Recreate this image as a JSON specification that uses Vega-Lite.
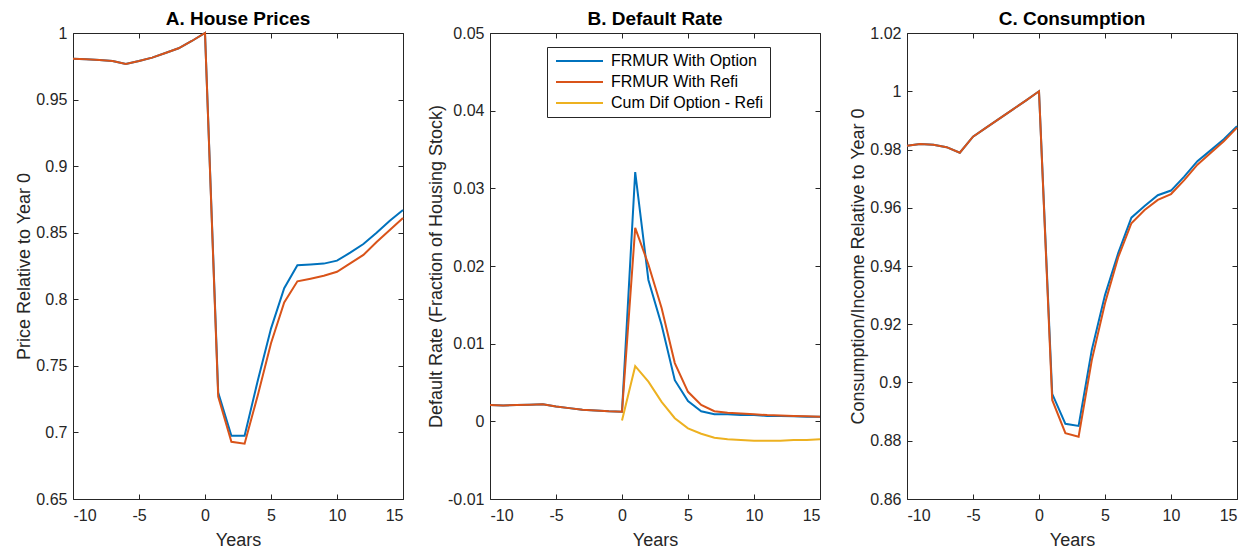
{
  "$schema": "https://vega.github.io/schema/vega-lite/v6.json",
  "background": "white",
  "padding": {"left": 15, "top": 9, "right": 5, "bottom": 0},
  "bounds": "flush",
  "spacing": 87,
  "resolve": {"scale": {"color": "independent"}, "legend": {"color": "independent"}},
  "config": {
    "font": "Liberation Sans",
    "view": {"stroke": "#262626", "strokeWidth": 1},
    "axis": {"grid": false, "domain": false, "tickColor": "#262626", "tickSize": -5, "labelColor": "#262626", "labelFontSize": 16, "titleFontSize": 18, "titleFontWeight": "normal", "titleColor": "#262626"},
    "axisX": {"labelPadding": 13, "titlePadding": 8},
    "axisY": {"labelPadding": 11, "titlePadding": 2},
    "title": {"fontSize": 19, "fontWeight": "bold", "color": "#000000", "offset": -4},
    "legend": {"labelFontSize": 16, "labelColor": "#000000", "strokeColor": "#262626", "fillColor": "white", "padding": 6}
  },
  "datasets": {
    "house": [
      {"series": "FRMUR With Option", "year": -10, "value": 0.9806},
      {"series": "FRMUR With Option", "year": -9, "value": 0.9803},
      {"series": "FRMUR With Option", "year": -8, "value": 0.9798},
      {"series": "FRMUR With Option", "year": -7, "value": 0.979},
      {"series": "FRMUR With Option", "year": -6, "value": 0.9768},
      {"series": "FRMUR With Option", "year": -5, "value": 0.979},
      {"series": "FRMUR With Option", "year": -4, "value": 0.9815},
      {"series": "FRMUR With Option", "year": -3, "value": 0.985},
      {"series": "FRMUR With Option", "year": -2, "value": 0.9885},
      {"series": "FRMUR With Option", "year": -1, "value": 0.994},
      {"series": "FRMUR With Option", "year": 0, "value": 1.0},
      {"series": "FRMUR With Option", "year": 1, "value": 0.73},
      {"series": "FRMUR With Option", "year": 2, "value": 0.6975},
      {"series": "FRMUR With Option", "year": 3, "value": 0.6975},
      {"series": "FRMUR With Option", "year": 4, "value": 0.739},
      {"series": "FRMUR With Option", "year": 5, "value": 0.778},
      {"series": "FRMUR With Option", "year": 6, "value": 0.8083},
      {"series": "FRMUR With Option", "year": 7, "value": 0.8255},
      {"series": "FRMUR With Option", "year": 8, "value": 0.8262},
      {"series": "FRMUR With Option", "year": 9, "value": 0.8268},
      {"series": "FRMUR With Option", "year": 10, "value": 0.829},
      {"series": "FRMUR With Option", "year": 11, "value": 0.835},
      {"series": "FRMUR With Option", "year": 12, "value": 0.8415},
      {"series": "FRMUR With Option", "year": 13, "value": 0.85},
      {"series": "FRMUR With Option", "year": 14, "value": 0.859},
      {"series": "FRMUR With Option", "year": 15, "value": 0.867},
      {"series": "FRMUR With Refi", "year": -10, "value": 0.9806},
      {"series": "FRMUR With Refi", "year": -9, "value": 0.9803},
      {"series": "FRMUR With Refi", "year": -8, "value": 0.9798},
      {"series": "FRMUR With Refi", "year": -7, "value": 0.979},
      {"series": "FRMUR With Refi", "year": -6, "value": 0.9768},
      {"series": "FRMUR With Refi", "year": -5, "value": 0.979},
      {"series": "FRMUR With Refi", "year": -4, "value": 0.9815},
      {"series": "FRMUR With Refi", "year": -3, "value": 0.985},
      {"series": "FRMUR With Refi", "year": -2, "value": 0.9885},
      {"series": "FRMUR With Refi", "year": -1, "value": 0.994},
      {"series": "FRMUR With Refi", "year": 0, "value": 1.0},
      {"series": "FRMUR With Refi", "year": 1, "value": 0.727},
      {"series": "FRMUR With Refi", "year": 2, "value": 0.693},
      {"series": "FRMUR With Refi", "year": 3, "value": 0.6915},
      {"series": "FRMUR With Refi", "year": 4, "value": 0.728},
      {"series": "FRMUR With Refi", "year": 5, "value": 0.767},
      {"series": "FRMUR With Refi", "year": 6, "value": 0.7977},
      {"series": "FRMUR With Refi", "year": 7, "value": 0.8135},
      {"series": "FRMUR With Refi", "year": 8, "value": 0.8155},
      {"series": "FRMUR With Refi", "year": 9, "value": 0.8177},
      {"series": "FRMUR With Refi", "year": 10, "value": 0.8207},
      {"series": "FRMUR With Refi", "year": 11, "value": 0.827},
      {"series": "FRMUR With Refi", "year": 12, "value": 0.8333},
      {"series": "FRMUR With Refi", "year": 13, "value": 0.843},
      {"series": "FRMUR With Refi", "year": 14, "value": 0.852},
      {"series": "FRMUR With Refi", "year": 15, "value": 0.861}
    ],
    "default": [
      {"series": "FRMUR With Option", "year": -10, "value": 0.0021},
      {"series": "FRMUR With Option", "year": -9, "value": 0.00205},
      {"series": "FRMUR With Option", "year": -8, "value": 0.0021},
      {"series": "FRMUR With Option", "year": -7, "value": 0.00215},
      {"series": "FRMUR With Option", "year": -6, "value": 0.0022},
      {"series": "FRMUR With Option", "year": -5, "value": 0.0019},
      {"series": "FRMUR With Option", "year": -4, "value": 0.0017},
      {"series": "FRMUR With Option", "year": -3, "value": 0.0015},
      {"series": "FRMUR With Option", "year": -2, "value": 0.0014},
      {"series": "FRMUR With Option", "year": -1, "value": 0.0013},
      {"series": "FRMUR With Option", "year": 0, "value": 0.00125},
      {"series": "FRMUR With Option", "year": 1, "value": 0.0321},
      {"series": "FRMUR With Option", "year": 2, "value": 0.0182},
      {"series": "FRMUR With Option", "year": 3, "value": 0.0124},
      {"series": "FRMUR With Option", "year": 4, "value": 0.0053},
      {"series": "FRMUR With Option", "year": 5, "value": 0.0026},
      {"series": "FRMUR With Option", "year": 6, "value": 0.0013},
      {"series": "FRMUR With Option", "year": 7, "value": 0.0009},
      {"series": "FRMUR With Option", "year": 8, "value": 0.0009},
      {"series": "FRMUR With Option", "year": 9, "value": 0.0008},
      {"series": "FRMUR With Option", "year": 10, "value": 0.0008},
      {"series": "FRMUR With Option", "year": 11, "value": 0.0007},
      {"series": "FRMUR With Option", "year": 12, "value": 0.0007},
      {"series": "FRMUR With Option", "year": 13, "value": 0.00065},
      {"series": "FRMUR With Option", "year": 14, "value": 0.0006},
      {"series": "FRMUR With Option", "year": 15, "value": 0.0006},
      {"series": "FRMUR With Refi", "year": -10, "value": 0.0021},
      {"series": "FRMUR With Refi", "year": -9, "value": 0.00205},
      {"series": "FRMUR With Refi", "year": -8, "value": 0.0021},
      {"series": "FRMUR With Refi", "year": -7, "value": 0.00215},
      {"series": "FRMUR With Refi", "year": -6, "value": 0.0022},
      {"series": "FRMUR With Refi", "year": -5, "value": 0.0019},
      {"series": "FRMUR With Refi", "year": -4, "value": 0.0017},
      {"series": "FRMUR With Refi", "year": -3, "value": 0.0015},
      {"series": "FRMUR With Refi", "year": -2, "value": 0.0014},
      {"series": "FRMUR With Refi", "year": -1, "value": 0.0013},
      {"series": "FRMUR With Refi", "year": 0, "value": 0.00125},
      {"series": "FRMUR With Refi", "year": 1, "value": 0.0249},
      {"series": "FRMUR With Refi", "year": 2, "value": 0.0202},
      {"series": "FRMUR With Refi", "year": 3, "value": 0.0146},
      {"series": "FRMUR With Refi", "year": 4, "value": 0.0075},
      {"series": "FRMUR With Refi", "year": 5, "value": 0.0038},
      {"series": "FRMUR With Refi", "year": 6, "value": 0.0021},
      {"series": "FRMUR With Refi", "year": 7, "value": 0.0013},
      {"series": "FRMUR With Refi", "year": 8, "value": 0.0011},
      {"series": "FRMUR With Refi", "year": 9, "value": 0.001},
      {"series": "FRMUR With Refi", "year": 10, "value": 0.0009},
      {"series": "FRMUR With Refi", "year": 11, "value": 0.0008},
      {"series": "FRMUR With Refi", "year": 12, "value": 0.00075},
      {"series": "FRMUR With Refi", "year": 13, "value": 0.0007},
      {"series": "FRMUR With Refi", "year": 14, "value": 0.00065},
      {"series": "FRMUR With Refi", "year": 15, "value": 0.0006},
      {"series": "Cum Dif Option - Refi", "year": 0, "value": 0.0001},
      {"series": "Cum Dif Option - Refi", "year": 1, "value": 0.0071},
      {"series": "Cum Dif Option - Refi", "year": 2, "value": 0.0051},
      {"series": "Cum Dif Option - Refi", "year": 3, "value": 0.0025},
      {"series": "Cum Dif Option - Refi", "year": 4, "value": 0.0004},
      {"series": "Cum Dif Option - Refi", "year": 5, "value": -0.0009},
      {"series": "Cum Dif Option - Refi", "year": 6, "value": -0.0016},
      {"series": "Cum Dif Option - Refi", "year": 7, "value": -0.0021},
      {"series": "Cum Dif Option - Refi", "year": 8, "value": -0.0023},
      {"series": "Cum Dif Option - Refi", "year": 9, "value": -0.0024},
      {"series": "Cum Dif Option - Refi", "year": 10, "value": -0.0025},
      {"series": "Cum Dif Option - Refi", "year": 11, "value": -0.0025},
      {"series": "Cum Dif Option - Refi", "year": 12, "value": -0.0025},
      {"series": "Cum Dif Option - Refi", "year": 13, "value": -0.0024},
      {"series": "Cum Dif Option - Refi", "year": 14, "value": -0.0024},
      {"series": "Cum Dif Option - Refi", "year": 15, "value": -0.0023}
    ],
    "consumption": [
      {"series": "FRMUR With Option", "year": -10, "value": 0.9813},
      {"series": "FRMUR With Option", "year": -9, "value": 0.9819},
      {"series": "FRMUR With Option", "year": -8, "value": 0.9816},
      {"series": "FRMUR With Option", "year": -7, "value": 0.9808},
      {"series": "FRMUR With Option", "year": -6, "value": 0.9789},
      {"series": "FRMUR With Option", "year": -5, "value": 0.9844},
      {"series": "FRMUR With Option", "year": -4, "value": 0.9875},
      {"series": "FRMUR With Option", "year": -3, "value": 0.9906},
      {"series": "FRMUR With Option", "year": -2, "value": 0.9937},
      {"series": "FRMUR With Option", "year": -1, "value": 0.9968},
      {"series": "FRMUR With Option", "year": 0, "value": 1.0},
      {"series": "FRMUR With Option", "year": 1, "value": 0.8961},
      {"series": "FRMUR With Option", "year": 2, "value": 0.8858},
      {"series": "FRMUR With Option", "year": 3, "value": 0.8851},
      {"series": "FRMUR With Option", "year": 4, "value": 0.9112},
      {"series": "FRMUR With Option", "year": 5, "value": 0.93},
      {"series": "FRMUR With Option", "year": 6, "value": 0.9444},
      {"series": "FRMUR With Option", "year": 7, "value": 0.9566},
      {"series": "FRMUR With Option", "year": 8, "value": 0.9606},
      {"series": "FRMUR With Option", "year": 9, "value": 0.9643},
      {"series": "FRMUR With Option", "year": 10, "value": 0.9659},
      {"series": "FRMUR With Option", "year": 11, "value": 0.9707},
      {"series": "FRMUR With Option", "year": 12, "value": 0.976},
      {"series": "FRMUR With Option", "year": 13, "value": 0.9797},
      {"series": "FRMUR With Option", "year": 14, "value": 0.9835},
      {"series": "FRMUR With Option", "year": 15, "value": 0.988},
      {"series": "FRMUR With Refi", "year": -10, "value": 0.9813},
      {"series": "FRMUR With Refi", "year": -9, "value": 0.9819},
      {"series": "FRMUR With Refi", "year": -8, "value": 0.9816},
      {"series": "FRMUR With Refi", "year": -7, "value": 0.9808},
      {"series": "FRMUR With Refi", "year": -6, "value": 0.9789},
      {"series": "FRMUR With Refi", "year": -5, "value": 0.9844},
      {"series": "FRMUR With Refi", "year": -4, "value": 0.9875},
      {"series": "FRMUR With Refi", "year": -3, "value": 0.9906},
      {"series": "FRMUR With Refi", "year": -2, "value": 0.9937},
      {"series": "FRMUR With Refi", "year": -1, "value": 0.9968},
      {"series": "FRMUR With Refi", "year": 0, "value": 1.0},
      {"series": "FRMUR With Refi", "year": 1, "value": 0.894},
      {"series": "FRMUR With Refi", "year": 2, "value": 0.8826},
      {"series": "FRMUR With Refi", "year": 3, "value": 0.8814},
      {"series": "FRMUR With Refi", "year": 4, "value": 0.9077},
      {"series": "FRMUR With Refi", "year": 5, "value": 0.9272},
      {"series": "FRMUR With Refi", "year": 6, "value": 0.943},
      {"series": "FRMUR With Refi", "year": 7, "value": 0.9547},
      {"series": "FRMUR With Refi", "year": 8, "value": 0.9592},
      {"series": "FRMUR With Refi", "year": 9, "value": 0.9627},
      {"series": "FRMUR With Refi", "year": 10, "value": 0.9647},
      {"series": "FRMUR With Refi", "year": 11, "value": 0.9695},
      {"series": "FRMUR With Refi", "year": 12, "value": 0.9748},
      {"series": "FRMUR With Refi", "year": 13, "value": 0.9788},
      {"series": "FRMUR With Refi", "year": 14, "value": 0.9828},
      {"series": "FRMUR With Refi", "year": 15, "value": 0.9875}
    ]
  },
  "hconcat": [
    {
      "width": 330, "height": 466,
      "title": {"text": "A. House Prices"},
      "data": {"name": "house"},
      "layer": [
        {
          "mark": {"type": "line", "strokeWidth": 2},
          "encoding": {
            "x": {"field": "year", "type": "quantitative", "scale": {"domain": [-10, 15], "nice": false}, "axis": {"values": [-10, -5, 0, 5, 10, 15], "title": "Years", "labelExpr": "'' + datum.value"}},
            "y": {"field": "value", "type": "quantitative", "scale": {"domain": [0.65, 1], "nice": false, "zero": false}, "axis": {"values": [0.65, 0.7, 0.75, 0.8, 0.85, 0.9, 0.95, 1], "title": "Price Relative to Year 0", "labelExpr": "'' + datum.value"}},
            "color": {"field": "series", "type": "nominal", "scale": {"domain": ["FRMUR With Option", "FRMUR With Refi"], "range": ["#0072BD", "#D95319"]}, "legend": null}
          }
        },
        {
          "mark": {"type": "line", "opacity": 0},
          "encoding": {
            "x": {"field": "year", "type": "quantitative", "axis": {"orient": "top", "values": [-10, -5, 0, 5, 10, 15], "labels": false, "title": null}},
            "y": {"field": "value", "type": "quantitative", "axis": {"orient": "right", "values": [0.65, 0.7, 0.75, 0.8, 0.85, 0.9, 0.95, 1], "labels": false, "title": null}},
            "detail": {"field": "series"}
          }
        }
      ],
      "resolve": {"axis": {"x": "independent", "y": "independent"}}
    },
    {
      "width": 330, "height": 466,
      "title": {"text": "B. Default Rate"},
      "data": {"name": "default"},
      "layer": [
        {
          "mark": {"type": "line", "strokeWidth": 2},
          "encoding": {
            "x": {"field": "year", "type": "quantitative", "scale": {"domain": [-10, 15], "nice": false}, "axis": {"values": [-10, -5, 0, 5, 10, 15], "title": "Years", "labelExpr": "'' + datum.value"}},
            "y": {"field": "value", "type": "quantitative", "scale": {"domain": [-0.01, 0.05], "nice": false, "zero": false}, "axis": {"values": [-0.01, 0, 0.01, 0.02, 0.03, 0.04, 0.05], "title": "Default Rate (Fraction of Housing Stock)", "labelExpr": "'' + datum.value"}},
            "color": {"field": "series", "type": "nominal", "sort": null, "scale": {"domain": ["FRMUR With Option", "FRMUR With Refi", "Cum Dif Option - Refi"], "range": ["#0072BD", "#D95319", "#EDB120"]},
              "legend": {"orient": "none", "legendX": 57, "legendY": 14, "title": null, "symbolType": "M-1,0H8.4", "symbolSize": 100, "symbolStrokeWidth": 2, "labelOffset": 42, "rowPadding": 5}}
          }
        },
        {
          "mark": {"type": "line", "opacity": 0},
          "encoding": {
            "x": {"field": "year", "type": "quantitative", "axis": {"orient": "top", "values": [-10, -5, 0, 5, 10, 15], "labels": false, "title": null}},
            "y": {"field": "value", "type": "quantitative", "axis": {"orient": "right", "values": [-0.01, 0, 0.01, 0.02, 0.03, 0.04, 0.05], "labels": false, "title": null}},
            "detail": {"field": "series"}
          }
        }
      ],
      "resolve": {"axis": {"x": "independent", "y": "independent"}}
    },
    {
      "width": 330, "height": 466,
      "title": {"text": "C. Consumption"},
      "data": {"name": "consumption"},
      "layer": [
        {
          "mark": {"type": "line", "strokeWidth": 2},
          "encoding": {
            "x": {"field": "year", "type": "quantitative", "scale": {"domain": [-10, 15], "nice": false}, "axis": {"values": [-10, -5, 0, 5, 10, 15], "title": "Years", "labelExpr": "'' + datum.value"}},
            "y": {"field": "value", "type": "quantitative", "scale": {"domain": [0.86, 1.02], "nice": false, "zero": false}, "axis": {"values": [0.86, 0.88, 0.9, 0.92, 0.94, 0.96, 0.98, 1, 1.02], "title": "Consumption/Income Relative to Year 0", "labelExpr": "'' + datum.value"}},
            "color": {"field": "series", "type": "nominal", "scale": {"domain": ["FRMUR With Option", "FRMUR With Refi"], "range": ["#0072BD", "#D95319"]}, "legend": null}
          }
        },
        {
          "mark": {"type": "line", "opacity": 0},
          "encoding": {
            "x": {"field": "year", "type": "quantitative", "axis": {"orient": "top", "values": [-10, -5, 0, 5, 10, 15], "labels": false, "title": null}},
            "y": {"field": "value", "type": "quantitative", "axis": {"orient": "right", "values": [0.86, 0.88, 0.9, 0.92, 0.94, 0.96, 0.98, 1, 1.02], "labels": false, "title": null}},
            "detail": {"field": "series"}
          }
        }
      ],
      "resolve": {"axis": {"x": "independent", "y": "independent"}}
    }
  ]
}
